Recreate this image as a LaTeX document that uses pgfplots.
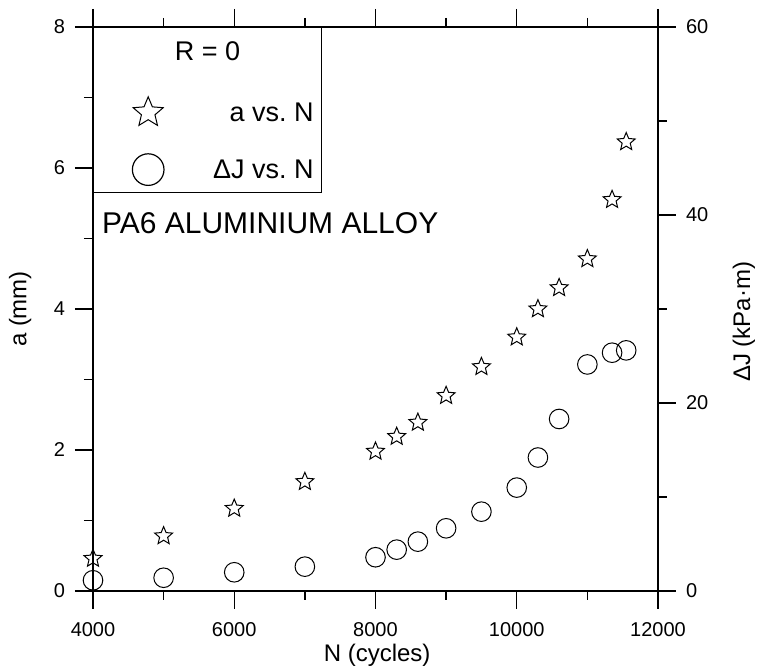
\documentclass[border=0pt]{standalone}
\usepackage{fontspec}
\setmainfont{Liberation Sans}
\usepackage{pgfplots}
\pgfplotsset{compat=1.18}

% open five-pointed star
\pgfdeclareplotmark{pstar}{%
  \pgfpathmoveto{\pgfpointpolar{90}{\pgfplotmarksize}}%
  \pgfpathlineto{\pgfpointpolar{126}{0.45*\pgfplotmarksize}}%
  \pgfpathlineto{\pgfpointpolar{162}{\pgfplotmarksize}}%
  \pgfpathlineto{\pgfpointpolar{198}{0.45*\pgfplotmarksize}}%
  \pgfpathlineto{\pgfpointpolar{234}{\pgfplotmarksize}}%
  \pgfpathlineto{\pgfpointpolar{270}{0.45*\pgfplotmarksize}}%
  \pgfpathlineto{\pgfpointpolar{306}{\pgfplotmarksize}}%
  \pgfpathlineto{\pgfpointpolar{342}{0.45*\pgfplotmarksize}}%
  \pgfpathlineto{\pgfpointpolar{18}{\pgfplotmarksize}}%
  \pgfpathlineto{\pgfpointpolar{54}{0.45*\pgfplotmarksize}}%
  \pgfpathclose
  \pgfusepathqstroke
}

\pgfplotstableread{
N a
4000 0.46
5000 0.78
6000 1.17
7000 1.55
8000 1.98
8300 2.19
8600 2.39
9000 2.77
9500 3.18
10000 3.60
10300 4.00
10600 4.30
11000 4.71
11350 5.55
11550 6.37
}\adata

\pgfplotstableread{
N dJ
4000 1.14
5000 1.41
6000 1.99
7000 2.59
8000 3.59
8300 4.40
8600 5.25
9000 6.67
9500 8.44
10000 11.0
10300 14.2
10600 18.3
11000 24.1
11350 25.35
11550 25.6
}\jdata

\pgfplotsset{
  common/.style={
    width=282.5pt, height=282pt, scale only axis,
    xmin=4000, xmax=12000,
    tick align=outside,
    major tick length=9pt, minor tick length=4.5pt,
    tick style={black, line width=0.7pt},
    axis line style={line width=0.6pt},
    ticklabel style={font=\fontsize{10}{12}\selectfont},
    label style={font=\fontsize{12}{14}\selectfont},
    scaled x ticks=false,
    /pgf/number format/assume math mode=true,
    /pgf/number format/1000 sep={},
    clip=false,
  },
}

\begin{document}
\begin{tikzpicture}
\path[use as bounding box] (-46.5pt,-38.5pt) rectangle (332pt,295.5pt);

\begin{axis}[
    common,
    ymin=0, ymax=8,
    xtick={4000,6000,8000,10000,12000},
    minor x tick num=1,
    ytick={0,2,4,6,8},
    minor y tick num=1,
    xtick pos=bottom, ytick pos=left,
    xticklabel shift=3pt, yticklabel shift=1.5pt,
    xlabel={N (cycles)},
    ylabel={a (mm)},
    xlabel style={at={(axis description cs:0.503,-0.125)}, anchor=base},
    ylabel style={at={(axis description cs:-0.129,0.5)}, anchor=center},
    legend cell align=right,
    legend style={at={(0,1)}, anchor=north west, draw=black, line width=0.6pt,
      fill=white, inner xsep=3.85pt, inner ysep=0pt, row sep=0pt, column sep=0pt,
      font=\fontsize{13.5}{15}\selectfont,
      nodes={inner sep=0pt, text height=0pt, text depth=0pt}},
]
\addlegendimage{legend image code/.code={\path[draw=none] (-23.45pt,-15pt) rectangle (12.7pt,16.5pt);}}
\addlegendentry{\makebox[70pt][l]{\hspace*{17pt}\makebox[0pt][c]{R = 0}}}

\addplot[only marks, mark=pstar, mark size=4.7pt, line width=0.5pt,
  legend image code/.code={\path[draw=none] (-23.45pt,-14pt) rectangle (12.7pt,15.5pt);
    \draw plot[only marks, mark=pstar, mark size=7.9pt, line width=0.5pt] coordinates {(0pt,4.5pt)};}]
  table[x=N, y=a] {\adata};
\addlegendentry{\makebox[70pt][r]{a vs.\ N}}

\addlegendimage{legend image code/.code={\path[draw=none] (-23.45pt,-7pt) rectangle (12.7pt,14.5pt);
    \draw plot[only marks, mark=o, mark size=7.9pt, line width=0.5pt] coordinates {(0pt,4.5pt)};}}
\addlegendentry{\makebox[70pt][r]{ΔJ vs.\ N}}

\node[anchor=west, inner sep=0pt, font=\fontsize{15}{17}\selectfont]
  at (axis description cs:0.0154,0.653) {PA6 ALUMINIUM ALLOY};
\end{axis}

\begin{axis}[
    common,
    ymin=0, ymax=60,
    axis x line=none,
    axis y line*=right,
    ytick={0,20,40,60},
    minor ytick={10,30,50},
    yticklabel shift=1.5pt,
    ylabel={ΔJ (kPa·m)},
    ylabel style={at={(axis description cs:1.152,0.477)}, anchor=center},
]
\addplot[only marks, mark=o, mark size=4.9pt, line width=0.5pt]
  table[x=N, y=dJ] {\jdata};
\end{axis}

% ticks along the top edge, drawn last so that nothing covers them
\begin{axis}[
    common,
    ymin=0, ymax=8,
    axis y line=none,
    axis x line*=top,
    xtick align=outside,
    xtick={4000,6000,8000,10000,12000},
    minor x tick num=1,
    xticklabels={},
]
\end{axis}
\end{tikzpicture}
\end{document}
